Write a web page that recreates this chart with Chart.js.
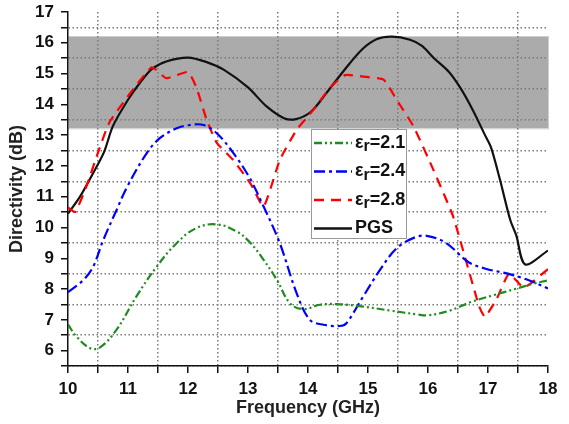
<!DOCTYPE html>
<html>
<head>
<meta charset="utf-8">
<script src="https://cdn.jsdelivr.net/npm/chart.js@4.4.1/dist/chart.umd.min.js"></script>
<style>
    body { margin: 0; background: #fff; }
    canvas { display: block; }
</style>
</head>
<body>
<canvas id="chart-directivity" width="569" height="424"></canvas>
<script>
// Directivity vs frequency
const freqEr21 = [10, 10.14, 10.37, 10.53, 10.81, 11.14, 11.48, 11.81, 12.14, 12.48, 12.81, 13.03, 13.26, 13.48, 13.7, 13.92, 14.2, 14.48, 14.92, 15.37, 15.81, 16.0, 16.36, 16.72, 17.09, 17.45, 17.75, 18];
const dirEr21 = [6.85, 6.46, 6.08, 6.1, 6.68, 7.76, 8.73, 9.49, 9.98, 10.1, 9.87, 9.52, 8.95, 8.3, 7.54, 7.35, 7.49, 7.51, 7.43, 7.3, 7.18, 7.15, 7.3, 7.58, 7.8, 8.0, 8.17, 8.28];

const freqEr24 = [10, 10.26, 10.42, 10.59, 10.81, 10.98, 11.31, 11.53, 11.81, 12.03, 12.26, 12.48, 12.76, 13.03, 13.26, 13.53, 13.81, 14.03, 14.26, 14.53, 14.64, 14.92, 15.2, 15.48, 15.81, 16.0, 16.3, 16.67, 16.96, 17.33, 17.69, 18];
const dirEr24 = [7.9, 8.3, 8.73, 9.6, 10.57, 11.3, 12.41, 12.9, 13.22, 13.33, 13.33, 13.06, 12.41, 11.6, 10.68, 9.49, 7.87, 7.0, 6.84, 6.8, 6.89, 7.76, 8.62, 9.33, 9.7, 9.72, 9.5, 8.88, 8.66, 8.5, 8.28, 8.02];

const freqEr28 = [10, 10.12, 10.3, 10.53, 10.7, 11.39, 11.64, 12.0, 12.14, 12.31, 12.48, 12.75, 13.05, 13.26, 13.53, 13.81, 14.09, 14.37, 14.62, 14.92, 15.26, 15.48, 15.76, 16.09, 16.42, 16.85, 16.95, 17.15, 17.35, 17.6, 18];
const dirEr28 = [10.65, 10.5, 11.3, 12.6, 13.45, 15.2, 14.85, 15.05, 14.55, 13.5, 12.75, 12.2, 11.4, 10.68, 12.19, 13.17, 13.82, 14.55, 14.95, 14.9, 14.8, 14.14, 13.28, 11.87, 10.35, 7.45, 7.1, 7.7, 8.5, 8.05, 8.65];

const freqPgs = [10, 10.2, 10.4, 10.6, 10.75, 11.0, 11.2, 11.4, 11.65, 12.0, 12.3, 12.6, 13.0, 13.3, 13.6, 13.8, 14.05, 14.3, 14.6, 14.9, 15.15, 15.4, 15.7, 15.9, 16.1, 16.35, 16.55, 16.75, 16.95, 17.05, 17.2, 17.37, 17.47, 17.62, 18];
const dirPgs = [10.45, 11.0, 11.7, 12.45, 13.3, 14.15, 14.7, 15.15, 15.4, 15.52, 15.38, 15.12, 14.55, 13.95, 13.55, 13.52, 13.76, 14.35, 15.1, 15.78, 16.12, 16.2, 16.1, 15.9, 15.5, 15.05, 14.5, 13.8, 13.0, 12.6, 11.55, 10.25, 9.75, 8.8, 9.25];

const seriesLabels = ['εr=2.1', 'εr=2.4', 'εr=2.8', 'PGS'];

// grey target band (dB)
const bandLow = 13.22;
const bandHigh = 16.22;

const FONT = "'Liberation Sans', Arial, sans-serif";

function toPoints(xs, ys) {
    return xs.map((x, i) => ({ x: x, y: ys[i] }));
}

const isHalf = v => Math.abs((v % 1) - 0.5) < 1e-6;

// shaded band, drawn under the grid
const bandPlugin = {
    id: 'band',
    beforeDraw(chart) {
        const { ctx, chartArea, scales } = chart;
        const yTop = scales.y.getPixelForValue(bandHigh);
        const yBot = scales.y.getPixelForValue(bandLow);
        ctx.save();
        ctx.fillStyle = '#ababab';
        ctx.fillRect(chartArea.left, yTop, chartArea.right - chartArea.left, yBot - yTop);
        ctx.strokeStyle = '#cfcfcf';
        ctx.lineWidth = 1;
        ctx.strokeRect(chartArea.left + 0.5, yTop + 0.5, chartArea.right - chartArea.left, yBot - yTop);
        ctx.restore();
    }
};

// boxed legend inside the plot
const legendPlugin = {
    id: 'boxLegend',
    afterDatasetsDraw(chart) {
        const ctx = chart.ctx;
        const x = 311, y = 129, w = 95, h = 109;
        ctx.save();
        ctx.fillStyle = '#fff';
        ctx.fillRect(x, y, w, h);
        ctx.strokeStyle = '#999';
        ctx.lineWidth = 1;
        ctx.strokeRect(x + 0.5, y + 0.5, w, h);

        chart.data.datasets.forEach((ds, i) => {
            const ly = y + 14 + i * 28.5;
            ctx.strokeStyle = ds.borderColor;
            ctx.lineWidth = 2.5;
            ctx.setLineDash(ds.borderDash || []);
            ctx.beginPath();
            ctx.moveTo(x + 3, ly);
            ctx.lineTo(x + 41, ly);
            ctx.stroke();
            ctx.setLineDash([]);

            ctx.fillStyle = '#111';
            ctx.textBaseline = 'middle';
            let tx = x + 44;
            let label = ds.label;
            if (label.startsWith('εr')) {
                ctx.font = `bold 18px ${FONT}`;
                ctx.fillText('ε', tx, ly);
                tx += ctx.measureText('ε').width;
                ctx.font = `bold 16px ${FONT}`;
                ctx.fillText('r', tx, ly + 4);
                tx += ctx.measureText('r').width;
                label = label.slice(2);
            }
            ctx.font = `bold 18px ${FONT}`;
            ctx.fillText(label, tx, ly);
        });
        ctx.restore();
    }
};

const gridCommon = {
    color: c => (c.tick && isHalf(c.tick.value)) ? '#7a7a7a' : 'transparent',
    lineWidth: 1.5,
    tickColor: '#111',
    tickLength: 7,
    tickWidth: 1.5,
    tickBorderDash: []
};

new Chart(document.getElementById('chart-directivity'), {
    type: 'line',
    data: {
        datasets: [
            {
                label: seriesLabels[0],
                data: toPoints(freqEr21, dirEr21),
                borderColor: '#1f8c1f',
                borderWidth: 2.2,
                borderDash: [8, 3, 2, 3, 2, 3],
                tension: 0.4
            },
            {
                label: seriesLabels[1],
                data: toPoints(freqEr24, dirEr24),
                borderColor: '#0000ff',
                borderWidth: 2.2,
                borderDash: [11, 4, 3, 4],
                tension: 0.35
            },
            {
                label: seriesLabels[2],
                data: toPoints(freqEr28, dirEr28),
                borderColor: '#ff0000',
                borderWidth: 2.2,
                borderDash: [10, 7],
                tension: 0.15
            },
            {
                label: seriesLabels[3],
                data: toPoints(freqPgs, dirPgs),
                borderColor: '#111111',
                borderWidth: 2.2,
                tension: 0.3
            }
        ]
    },
    options: {
        responsive: false,
        animation: false,
        layout: { padding: { top: 12, right: 21, left: 0, bottom: 0 } },
        elements: { point: { radius: 0 } },
        plugins: {
            legend: { display: false },
            tooltip: { enabled: false }
        },
        scales: {
            x: {
                type: 'linear',
                min: 10,
                max: 18,
                afterFit: s => { s.height = 58; },
                grid: gridCommon,
                border: { color: '#111', width: 1.5, dash: [1.5, 2.5] },
                ticks: {
                    stepSize: 0.5,
                    autoSkip: false,
                    maxRotation: 0,
                    padding: 6,
                    color: '#111',
                    font: { family: FONT, size: 17, weight: 'bold' },
                    callback: v => Number.isInteger(v) ? v : ''
                },
                title: {
                    display: true,
                    text: 'Frequency (GHz)',
                    color: '#222',
                    padding: { top: 0, bottom: 5 },
                    font: { family: FONT, size: 18, weight: 'bold' }
                }
            },
            y: {
                min: 5.5,
                max: 17,
                // fixed width; drop the label overflow padding so the top sits at 12px
                afterFit: s => { s.width = 68; s.paddingTop = 0; s.paddingBottom = 0; },
                grid: gridCommon,
                border: { color: '#111', width: 1.5, dash: [1.5, 2.5] },
                ticks: {
                    stepSize: 0.5,
                    autoSkip: false,
                    padding: 7,
                    color: '#111',
                    font: { family: FONT, size: 17, weight: 'bold' },
                    callback: v => Number.isInteger(v) ? v : ''
                },
                title: {
                    display: true,
                    text: 'Directivity (dB)',
                    color: '#222',
                    padding: { top: 6, bottom: 0 },
                    font: { family: FONT, size: 18, weight: 'bold' }
                }
            }
        }
    },
    plugins: [bandPlugin, legendPlugin]
});
</script>
</body>
</html>
